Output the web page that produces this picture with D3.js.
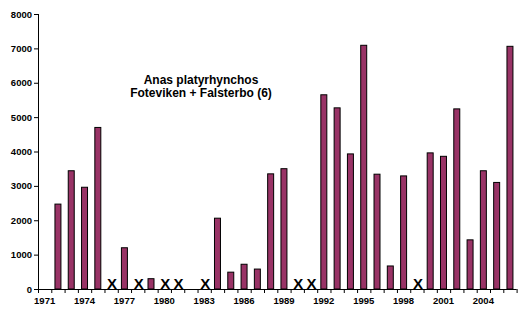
<!DOCTYPE html>
<html><head><meta charset="utf-8">
<script src="https://cdn.jsdelivr.net/npm/d3@7"></script>
<style>body{margin:0;background:#fff}svg{display:block}text{font-family:"Liberation Sans",Arial,sans-serif;font-weight:bold}</style>
</head><body>
<script>
const years = d3.range(1971, 2007);
const values = [null,2470,3440,2960,4700,null,1200,null,300,null,null,null,null,2060,490,720,580,3350,3500,null,null,5650,5270,3930,7090,3340,670,3290,null,3960,3860,5240,1430,3440,3100,7060];
const missing = [1976,1978,1980,1981,1983,1990,1991,1999];
const yTicks = [0,1000,2000,3000,4000,5000,6000,7000,8000];
const xLabels = [1971,1974,1977,1980,1983,1986,1989,1992,1995,1998,2001,2004];
const titleLines = ["Anas platyrhynchos","Foteviken + Falsterbo (6)"];

const W=518,H=312;
const svg=d3.select("body").append("svg").attr("width",W).attr("height",H);
const x=d3.scaleBand().domain(years).range([38,516.6]).paddingInner(0.55).paddingOuter(0.275);
const y=d3.scaleLinear().domain([0,8000]).range([289,14]);

// y axis
const ya=svg.append("g").attr("transform","translate(38,0)");
ya.append("line").attr("x1",0.5).attr("x2",0.5).attr("y1",y(8000)).attr("y2",y(0)).attr("stroke","#000");
ya.selectAll("line.t").data(yTicks).join("line").attr("class","t")
  .attr("x1",-4).attr("x2",0).attr("y1",d=>y(d)+0.5).attr("y2",d=>y(d)+0.5).attr("stroke","#000");
ya.selectAll("text").data(yTicks).join("text").attr("x",-6).attr("y",d=>y(d)+3.5)
  .attr("text-anchor","end").attr("font-size","9.5px").text(d=>d);

// bars
svg.selectAll("rect.bar").data(years.map((yr,i)=>({yr,v:values[i]})).filter(d=>d.v!=null))
  .join("rect").attr("class","bar")
  .attr("x",d=>x(d.yr)).attr("width",x.bandwidth())
  .attr("y",d=>y(d.v)).attr("height",d=>y(0)-y(d.v))
  .attr("fill","#993366").attr("stroke","#000").attr("stroke-width",1);

// missing marks
svg.selectAll("text.miss").data(missing).join("text").attr("class","miss")
  .attr("x",d=>x(d)+x.bandwidth()/2+1).attr("y",y(0))
  .attr("text-anchor","middle").attr("font-size","15px").text("X");

// x axis
const xa=svg.append("g");
xa.append("line").attr("x1",38).attr("x2",516.6).attr("y1",y(0)+0.5).attr("y2",y(0)+0.5).attr("stroke","#000");
const step=x.step();
xa.selectAll("line.t").data(d3.range(0,37)).join("line").attr("class","t")
  .attr("x1",i=>38.5+i*step).attr("x2",i=>38.5+i*step).attr("y1",y(0)).attr("y2",y(0)+4).attr("stroke","#000");
xa.selectAll("text").data(xLabels).join("text")
  .attr("x",d=>x(d)+x.bandwidth()/2).attr("y",304)
  .attr("text-anchor","middle").attr("font-size","9.5px").text(d=>d);

// title
svg.selectAll("text.title").data(titleLines).join("text").attr("class","title")
  .attr("x",201).attr("y",(d,i)=>84+i*13).attr("text-anchor","middle").attr("font-size","12px").text(d=>d);
</script>
</body></html>
